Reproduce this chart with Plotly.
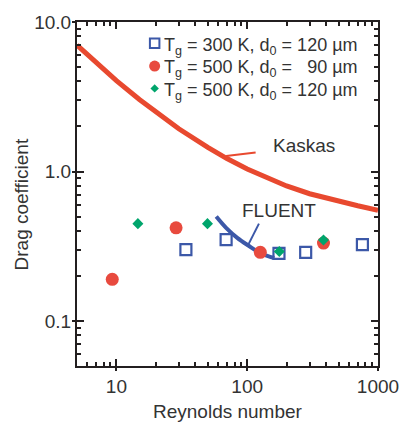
import plotly.graph_objects as go

# ---- data ----
kaskas_re = [5, 7, 10, 15, 20, 30, 50, 70, 100, 150, 200, 300, 500, 700, 1000]
kaskas_cd = [7.0, 5.3, 4.05, 3.03, 2.49, 1.93, 1.45, 1.22, 1.04, 0.89, 0.80, 0.71, 0.63, 0.59, 0.55]

fluent_re = [58, 69, 84, 102, 128, 161]
fluent_cd = [0.50, 0.42, 0.36, 0.32, 0.283, 0.264]

sq_re = [34, 69, 175, 280, 760]          # Tg=300 K, d0=120 um
sq_cd = [0.30, 0.35, 0.283, 0.288, 0.324]

ci_re = [9.3, 28.6, 126, 383]            # Tg=500 K, d0=90 um
ci_cd = [0.19, 0.42, 0.288, 0.332]

di_re = [14.6, 49.7, 176, 383]           # Tg=500 K, d0=120 um
di_cd = [0.448, 0.448, 0.292, 0.348]

kaskas_leader_re = [116, 69]
kaskas_leader_cd = [1.34, 1.27]
fluent_leader_re = [123, 102]
fluent_leader_cd = [0.448, 0.324]

series_names = [
    "T<sub>g</sub> = 300 K, d<sub>0</sub> = 120 µm",
    "T<sub>g</sub> = 500 K, d<sub>0</sub> =\u00a0\u00a0 90 µm",
    "T<sub>g</sub> = 500 K, d<sub>0</sub> = 120 µm",
]

x_tickvals = [10, 100, 1000]
x_ticktext = ["10", "100", "1000"]
y_tickvals = [0.1, 1, 10]
y_ticktext = ["0.1", "1.0", "10.0"]
x_minor = [6, 7, 8, 9, 20, 30, 40, 50, 60, 70, 80, 90, 200, 300, 400, 500, 600, 700, 800, 900]
y_minor = [0.06, 0.07, 0.08, 0.09, 0.2, 0.3, 0.4, 0.5, 0.6, 0.7, 0.8, 0.9, 2, 3, 4, 5, 6, 7, 8, 9]

RED = "#e8492f"
RED_PT = "#e84a3e"
GREEN = "#00a56c"
BLUE = "#3c58a8"
AXC = "#231f20"
TXT = "#333333"
FONT = "Liberation Sans, Arial, sans-serif"

# legend layout (paper fractions)
LEG_KEY_X = 0.258
LEG_TEXT_X = 0.284
LEG_ROWS = [0.938, 0.872, 0.807]

fig = go.Figure()

fig.add_trace(go.Scatter(x=kaskas_re, y=kaskas_cd, mode="lines",
                         line=dict(color=RED, width=5), showlegend=False))
fig.add_trace(go.Scatter(x=kaskas_leader_re, y=kaskas_leader_cd, mode="lines",
                         line=dict(color=RED, width=2), showlegend=False))
fig.add_trace(go.Scatter(x=fluent_re, y=fluent_cd, mode="lines",
                         line=dict(color=BLUE, width=4, shape="spline"), showlegend=False))
fig.add_trace(go.Scatter(x=fluent_leader_re, y=fluent_leader_cd, mode="lines",
                         line=dict(color=BLUE, width=2), showlegend=False))

marker_styles = [
    dict(symbol="square-open", size=11, color=BLUE, line=dict(width=2.2, color=BLUE)),
    dict(symbol="circle", size=13, color=RED_PT),
    dict(symbol="diamond", size=8.5, color=GREEN),
]
legend_styles = [
    dict(symbol="square-open", size=9.5, color=BLUE, line=dict(width=2, color=BLUE)),
    dict(symbol="circle", size=11, color=RED_PT),
    dict(symbol="diamond", size=6.5, color=GREEN),
]
for xs, ys, nm, ms in zip([sq_re, ci_re, di_re], [sq_cd, ci_cd, di_cd], series_names, marker_styles):
    fig.add_trace(go.Scatter(x=xs, y=ys, mode="markers", name=nm, marker=ms, showlegend=False))

# legend keys on a hidden paper-like axis pair
for i, (row, ls) in enumerate(zip(LEG_ROWS, legend_styles)):
    fig.add_trace(go.Scatter(x=[LEG_KEY_X], y=[row], xaxis="x3", yaxis="y3", mode="markers",
                             marker=ls, showlegend=False, hoverinfo="skip"))
    fig.add_annotation(x=LEG_TEXT_X, y=row - 0.008, xref="paper", yref="paper",
                       xanchor="left", yanchor="middle", text=series_names[i],
                       showarrow=False, font=dict(size=18, color=TXT))

# invisible trace to hold the overlay axes (outside parts of major ticks)
fig.add_trace(go.Scatter(x=[10], y=[1], xaxis="x2", yaxis="y2", mode="markers",
                         marker=dict(opacity=0), showlegend=False, hoverinfo="skip"))

xr = [0.69897, 3.0]
yr = [-1.30103, 1.0]

hidden = dict(showticklabels=False, showline=False, showgrid=False, zeroline=False, ticks="")

fig.update_layout(
    width=411, height=422,
    margin=dict(l=77, r=24, t=19, b=56),
    paper_bgcolor="white", plot_bgcolor="white",
    font=dict(family=FONT, size=19, color=TXT),
    showlegend=False,
    xaxis=dict(type="log", range=xr, tickmode="array", tickvals=x_tickvals,
               ticktext=x_ticktext, ticks="inside", ticklen=7, tickwidth=2,
               tickcolor=AXC, showline=True, linecolor=AXC, linewidth=2,
               mirror="allticks", showgrid=False, zeroline=False,
               tickfont=dict(size=19, color=TXT), ticklabelstandoff=2,
               minor=dict(tickmode="array", tickvals=x_minor, ticks="inside",
                          ticklen=4, tickwidth=1.5, tickcolor=AXC, showgrid=False)),
    yaxis=dict(type="log", range=yr, tickmode="array", tickvals=y_tickvals,
               ticktext=y_ticktext, ticks="inside", ticklen=7, tickwidth=2,
               tickcolor=AXC, showline=True, linecolor=AXC, linewidth=2,
               mirror="allticks", showgrid=False, zeroline=False,
               tickfont=dict(size=19, color=TXT),
               minor=dict(tickmode="array", tickvals=y_minor, ticks="inside",
                          ticklen=4, tickwidth=1.5, tickcolor=AXC, showgrid=False)),
    xaxis2=dict(type="log", range=xr, overlaying="x", side="bottom",
                tickmode="array", tickvals=x_tickvals, ticks="outside", ticklen=4,
                tickwidth=2, tickcolor=AXC, showticklabels=False, showline=False,
                showgrid=False, zeroline=False),
    yaxis2=dict(type="log", range=yr, overlaying="y", side="left",
                tickmode="array", tickvals=y_tickvals, ticks="outside", ticklen=4,
                tickwidth=2, tickcolor=AXC, showticklabels=False, showline=False,
                showgrid=False, zeroline=False),
    xaxis3=dict(range=[0, 1], overlaying="x", **hidden),
    yaxis3=dict(range=[0, 1], overlaying="y", **hidden),
)

# axis titles placed as annotations for exact positioning
fig.add_annotation(x=0.5, y=-0.131, xref="paper", yref="paper", text="Reynolds number",
                   xanchor="center", yanchor="middle", showarrow=False,
                   font=dict(size=19, color=TXT))
fig.add_annotation(x=-0.1855, y=0.47, xref="paper", yref="paper", text="Drag coefficient",
                   xanchor="center", yanchor="middle", textangle=-90, showarrow=False,
                   font=dict(size=19, color=TXT))

fig.add_annotation(x=2.437, y=0.172, xref="x", yref="y", text="Kaskas",
                   showarrow=False, font=dict(size=19, color=TXT))
fig.add_annotation(x=2.244, y=-0.258, xref="x", yref="y", text="FLUENT",
                   showarrow=False, font=dict(size=19, color=TXT))

fig.write_html("out.html")
